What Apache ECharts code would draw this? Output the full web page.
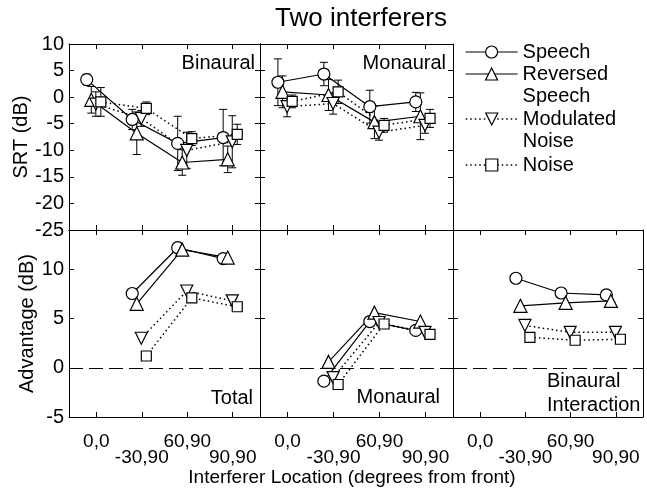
<!DOCTYPE html>
<html><head><meta charset="utf-8">
<script src="https://cdn.jsdelivr.net/npm/echarts@6/dist/echarts.min.js"></script>
<style>html,body{margin:0;padding:0;background:#fff}#c{width:647px;height:492px}</style>
</head><body><div id="c"></div>
<script>
// ---------- data ----------
const categories = ['0,0', '-30,90', '60,90', '90,90'];
const seriesNames = ['Speech', 'Reversed Speech', 'Modulated Noise', 'Noise'];
const srtTicks = [-25, -20, -15, -10, -5, 0, 5, 10];
const advTicks = [-5, 0, 5, 10];
const xTicks = [0, 1, 2, 3];
const xLabelsUpper = [0, 2];
const xLabelsLower = [1, 3];

// Binaural SRT (dB), locations 0,0 / -30,90 / 60,90 / 90,90
const binSpeech = [3.3, -4.2, -8.7, -7.6];
const binRev    = [-0.5, -6.8, -12.3, -11.7];
const binMod    = [-1.3, -4.0, -10.0, -8.4];
const binNoise  = [-0.9, -2.1, -7.8, -7.0];
const binSpeechErr = [1.0, 1.9, 5.1, 5.3];
const binRevErr    = [2.5, 4.0, 2.4, 2.5];
const binModErr    = [2.3, 1.5, 3.4, 4.9];
const binNoiseErr  = [2.7, 1.2, 1.3, 1.9];

// Monaural SRT (dB)
const monSpeech = [2.8, 4.35, -1.8, -0.9];
const monRev    = [1.0, 0.4, -4.7, -3.6];
const monMod    = [-1.8, -1.2, -6.6, -5.3];
const monNoise  = [-0.8, 1.0, -5.3, -4.0];
const monSpeechErr = [4.4, 2.2, 3.1, 1.8];
const monRevErr    = [3.0, 2.9, 3.1, 4.4];
const monModErr    = [1.9, 2.0, 1.5, 1.5];
const monNoiseErr  = [1.2, 2.2, 1.3, 1.7];

// Advantage (dB), locations -30,90 / 60,90 / 90,90
const totSpeech = [7.55, 12.2, 11.1];
const totRev    = [6.5, 12.0, 11.2];
const totMod    = [3.0, 7.8, 6.8];
const totNoise  = [1.2, 7.1, 6.2];

const madvSpeech = [-1.36, 4.7, 3.8];
const madvRev    = [0.6, 5.6, 4.7];
const madvMod    = [-1.0, 4.6, 3.6];
const madvNoise  = [-1.7, 4.45, 3.4];

const biSpeech = [9.1, 7.6, 7.4];
const biRev    = [6.3, 6.6, 6.8];
const biMod    = [4.3, 3.6, 3.6];
const biNoise  = [3.1, 2.8, 2.9];

// ---------- styles / layout ----------
const FONT = 'Liberation Sans, Arial, Helvetica, sans-serif';
const offsets = [-0.21, -0.11, -0.01, 0.10];
const symStyles = [
  {symbol: 'circle',   size: 12, rotate: 0,   dash: 'solid',  width: 1.2},
  {symbol: 'triangle', size: 13, rotate: 0,   dash: 'solid',  width: 1.2},
  {symbol: 'triangle', size: 12, rotate: 180, dash: [1.5, 3], width: 1.5},
  {symbol: 'rect',     size: 10, rotate: 0,   dash: [1.5, 3], width: 1.5}
];
const gridBoxes = [
  {left: 69,  top: 44,  width: 191, height: 186},
  {left: 260, top: 44,  width: 193, height: 186},
  {left: 69,  top: 230, width: 191, height: 187},
  {left: 260, top: 230, width: 193, height: 187},
  {left: 453, top: 230, width: 190, height: 187}
];
const panels = [
  {start: 0, vals: [binSpeech, binRev, binMod, binNoise], errs: [binSpeechErr, binRevErr, binModErr, binNoiseErr]},
  {start: 0, vals: [monSpeech, monRev, monMod, monNoise], errs: [monSpeechErr, monRevErr, monModErr, monNoiseErr]},
  {start: 1, vals: [totSpeech, totRev, totMod, totNoise]},
  {start: 1, vals: [madvSpeech, madvRev, madvMod, madvNoise]},
  {start: 1, vals: [biSpeech, biRev, biMod, biNoise]}
];

const axisLine = {show: true, onZero: false, lineStyle: {color: '#000', width: 1}};
const xAxes = [], yAxes = [], series = [];
const bottomAxisIdx = [];
const labelStyle = {color: '#000', fontFamily: FONT, fontSize: 19, lineHeight: 14, hideOverlap: false,
                    showMinLabel: true, showMaxLabel: true,
                    formatter: v => categories[Math.round(v)]};

gridBoxes.forEach((b, g) => {
  const isTop = g < 2;
  const yTicks = isTop ? srtTicks : advTicks;
  const yMin = isTop ? -25 : -5, yMax = isTop ? 10 : 14;
  const xBase = {
    type: 'value', gridIndex: g, min: -0.6, max: 3.6,
    axisLine: axisLine, splitLine: {show: false},
    axisTick: {show: true, inside: true, length: 5, customValues: xTicks, lineStyle: {color: '#000'}}
  };
  const xi = xAxes.length;
  if (!isTop) bottomAxisIdx.push({xi: xi, g: g});
  xAxes.push(Object.assign({}, xBase, {
    position: 'bottom',
    axisLabel: Object.assign({show: !isTop, customValues: xLabelsUpper, margin: 18}, labelStyle)
  }));
  xAxes.push(Object.assign({}, xBase, {position: 'top', axisLabel: {show: false}}));
  const yi = yAxes.length;
  const yBase = {
    type: 'value', gridIndex: g, min: yMin, max: yMax,
    axisLine: axisLine, splitLine: {show: false},
    axisTick: {show: true, inside: true, length: 5, customValues: yTicks, lineStyle: {color: '#000'}}
  };
  const yAxisLeft = Object.assign({}, yBase, {
    position: 'left',
    axisLabel: {show: g === 0 || g === 2, customValues: yTicks, color: '#000', fontFamily: FONT, fontSize: 20, margin: 5}
  });
  if (g === 0 || g === 2) {
    yAxisLeft.name = g === 0 ? 'SRT (dB)' : 'Advantage (dB)';
    yAxisLeft.nameLocation = 'middle';
    yAxisLeft.nameGap = 31;
    yAxisLeft.nameTextStyle = {fontSize: 20, color: '#000', fontFamily: FONT};
  }
  yAxes.push(yAxisLeft);
  yAxes.push(Object.assign({}, yBase, {position: 'right', axisLabel: {show: false}}));

  const p = panels[g];
  p.vals.forEach((vals, s) => {
    const st = symStyles[s];
    const pts = vals.map((v, i) => [p.start + i + offsets[s], v]);
    const line = {
      type: 'line', name: seriesNames[s], xAxisIndex: xi, yAxisIndex: yi,
      data: pts, symbol: st.symbol, symbolSize: st.size, symbolRotate: st.rotate,
      showAllSymbol: true, z: 4, animation: false, silent: true,
      lineStyle: {color: '#000', width: st.width, type: st.dash},
      itemStyle: {color: '#fff', borderColor: '#000', borderWidth: 1.2},
      emphasis: {disabled: true}
    };
    if (!isTop && s === 0) {
      line.markLine = {
        silent: true, symbol: ['none', 'none'], label: {show: false}, animation: false,
        lineStyle: {color: '#000', type: [14, 6], width: 1},
        emphasis: {disabled: true},
        data: [{yAxis: 0}]
      };
    }
    series.push(line);
    if (p.errs) {
      const errs = p.errs[s];
      series.push({
        type: 'custom', name: seriesNames[s] + ' err', xAxisIndex: xi, yAxisIndex: yi,
        z: 2, animation: false, silent: true,
        data: vals.map((v, i) => [p.start + i + offsets[s], v - errs[i], v + errs[i]]),
        encode: {x: 0, y: [1, 2]},
        renderItem: (params, api) => {
          const x = api.value(0);
          const lo = api.coord([x, api.value(1)]);
          const hi = api.coord([x, api.value(2)]);
          const hw = 4;
          const st = {stroke: '#000', lineWidth: 1};
          return {type: 'group', children: [
            {type: 'line', shape: {x1: lo[0], y1: lo[1], x2: hi[0], y2: hi[1]}, style: st},
            {type: 'line', shape: {x1: lo[0] - hw, y1: lo[1], x2: lo[0] + hw, y2: lo[1]}, style: st},
            {type: 'line', shape: {x1: hi[0] - hw, y1: hi[1], x2: hi[0] + hw, y2: hi[1]}, style: st}
          ]};
        }
      });
    }
  });
});

// legends (one per item, placed to match the stacked two-line labels)
const legendTops = [41, 41, 86, 154];
const legends = seriesNames.map((n, s) => {
  const twoLine = n.indexOf(' ') > 0;
  return {
    show: true, orient: 'vertical', left: 465, top: legendTops[s], padding: 0,
    itemWidth: 52, itemHeight: 15, selectedMode: false,
    data: [n],
    formatter: name => twoLine ? '\n' + name.replace(' ', '\n') : name,
    lineStyle: {width: symStyles[s].width},
    itemStyle: {borderWidth: 1.2},
    textStyle: {fontSize: 20, lineHeight: 22, color: '#000', fontFamily: FONT}
  };
});

// panel labels and axis title as plain text elements
const txt = (text, x, y, align, size, lh) => ({
  type: 'text', x, y, silent: true, z: 50,
  style: {text, fontSize: size, fontFamily: FONT, fill: '#000', align, verticalAlign: 'top', lineHeight: lh || size + 2}
});
const annotations = [
  txt('Binaural', 255, 52, 'right', 20),
  txt('Monaural', 446, 52, 'right', 20),
  txt('Total', 253, 387, 'right', 20),
  txt('Monaural', 440, 386, 'right', 20),
  txt('Binaural\nInteraction', 547, 369, 'left', 20, 24),
  txt('Interferer Location (degrees from front)', 352, 467, 'center', 19)
];

const option = {
  backgroundColor: '#fff',
  animation: false,
  title: {
    text: 'Two interferers', left: 361, top: 6, textAlign: 'center', padding: 0,
    textStyle: {fontSize: 26, fontWeight: 'normal', color: '#000', fontFamily: FONT}
  },
  legend: legends,
  grid: gridBoxes.map(b => Object.assign({show: false, containLabel: false}, b)),
  xAxis: xAxes,
  yAxis: yAxes,
  series: series
};

const chart = echarts.init(document.getElementById('c'), null, {renderer: 'canvas'});
chart.setOption(option);

// second (staggered) row of tick labels, placed through each panel's own x scale
const lowerLabels = [];
bottomAxisIdx.forEach(({xi, g}) => {
  const b = gridBoxes[g];
  xLabelsLower.forEach(v => {
    const px = chart.convertToPixel({xAxisIndex: xi}, v);
    lowerLabels.push({
      type: 'text', x: px, y: b.top + b.height + 40.5, silent: true, z: 100,
      style: {text: categories[v], fontSize: 19, fontFamily: FONT, fill: '#000', align: 'center', verticalAlign: 'middle'}
    });
  });
});
chart.setOption({graphic: {elements: annotations.concat(lowerLabels)}});
</script>
</body></html>
